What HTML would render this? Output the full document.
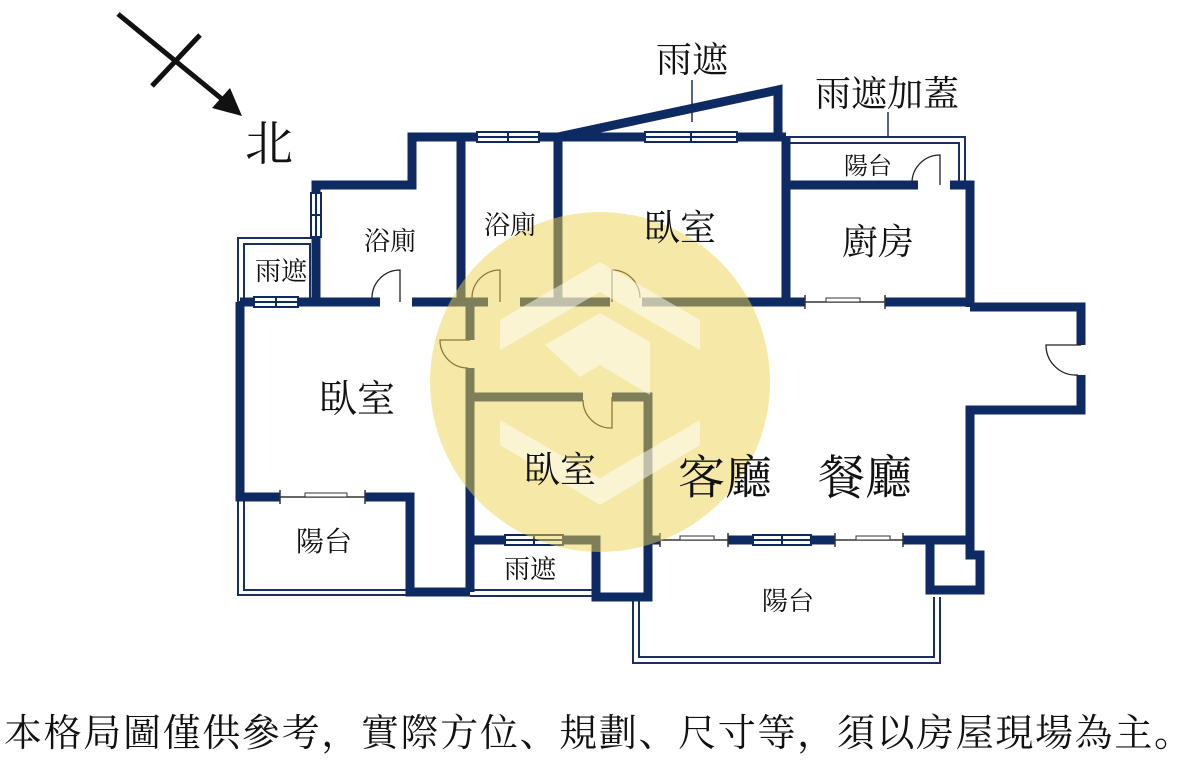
<!DOCTYPE html>
<html><head><meta charset="utf-8"><style>
html,body{margin:0;padding:0;background:#fff;width:1200px;height:768px;overflow:hidden}
svg{display:block}
text{font-family:"Liberation Serif","Noto Serif CJK SC","Noto Sans CJK TC",serif;fill:#111}
</style></head><body>
<svg width="1200" height="768" viewBox="0 0 1200 768" xmlns="http://www.w3.org/2000/svg">
<g fill="none" stroke="#1b2f5e" stroke-width="2">
<rect x="238" y="238" width="78" height="64"/><rect x="244" y="244" width="66" height="58"/>
<path d="M238 497 V595 H410 M244 497 V590 H410"/>
<path d="M470 590 H596 M470 596 H596"/>
<path d="M633 597 V663 H940 V597 M639 597 V657 H934 V597"/>
<path d="M786 137 H965 V185 M786 143 H959 V185"/>
<path d="M888 112 V137" stroke-width="1.5"/>
<path d="M692 80 V122" stroke-width="1.5"/>
</g>
<g fill="none" stroke="#0e2a63" stroke-width="9" stroke-linejoin="miter">
<path d="M316 302 V185 H412 V137 H786"/>
<path d="M558 137 L778 90 V137"/>
<path d="M461 137 V302 M558 137 V302 M786 137 V302"/>
<path d="M786 185 H918 M950 185 H970 V307"/>
<path d="M240 302 H380 M412 302 H488 M520 302 H610 M642 302 H805 M885 302 H970"/>
<path d="M970 307 H1081 V345 M1081 375 V410 H970 V540"/>
<path d="M240 302 V497 H280 M365 497 H410 V592 H470"/>
<path d="M470 302 V340 M470 368 V592"/>
<path d="M470 397 H583 M612 397 H648 V597 H596 V540 H470"/>
<path d="M648 540 H660 M728 540 H835 M903 540 H970 V555 H980 V590 H930 V540"/>
</g>
<g fill="#fff" stroke="#0e2a63" stroke-width="2">
<rect x="477" y="132" width="62" height="10"/><path d="M477 137 H539 M508 132 V142"/>
<rect x="645" y="132" width="92" height="10"/><path d="M645 137 H737 M691 132 V142"/>
<rect x="311" y="193" width="10" height="44"/><path d="M316 193 V237 M311 215 H321"/>
<rect x="254" y="297" width="44" height="10"/><path d="M254 302 H298 M276 297 V307"/>
<rect x="505" y="535" width="58" height="10"/><path d="M505 540 H563 M534 535 V545"/>
<rect x="753" y="535" width="58" height="10"/><path d="M753 540 H811 M782 535 V545"/>
</g>
<g fill="#fff" stroke="#333" stroke-width="1">
<path d="M805 302 H885 M805 295 V309 M885 295 V309" fill="none" stroke-width="1.5"/><rect x="826" y="298" width="34" height="4"/>
<path d="M280 497 H365 M280 490 V504 M365 490 V504" fill="none" stroke-width="1.5"/><rect x="305" y="493" width="42" height="4"/>
<path d="M660 540 H728 M660 533 V547 M728 533 V547" fill="none" stroke-width="1.5"/><rect x="680" y="536" width="34" height="4"/>
<path d="M835 540 H903 M835 533 V547 M903 533 V547" fill="none" stroke-width="1.5"/><rect x="856" y="536" width="34" height="4"/>
</g>
<g fill="none" stroke="#222" stroke-width="1.3">
<path d="M400 302 V270 A28 28 0 0 0 372 298"/>
<path d="M500 302 V270 A28 28 0 0 0 472 298"/>
<path d="M612 302 V270 A28 28 0 0 1 640 298"/>
<path d="M940 185 V155 A28 28 0 0 0 912 183"/>
<path d="M470 340 H440 A28 28 0 0 0 468 368"/>
<path d="M612 397 V428 A28 28 0 0 1 583 400"/>
<path d="M1081 345 H1046 A30 30 0 0 0 1078 375"/>
</g>
<circle cx="600" cy="382" r="170" fill="rgb(238,212,80)" fill-opacity="0.5"/>
<path d="M600 262 L700 320 V350 L600 292 L500 350 V320 Z M500 420 L600 478 L700 420 V445 L600 505 L500 445 Z M545 345 L600 313 L650 342 V395 L600 365 L580 377 Z" fill="#fff" fill-opacity="0.5"/>
<g stroke="#111" stroke-width="5">
<line x1="118" y1="14" x2="228" y2="104"/><line x1="200" y1="35" x2="152" y2="86"/>
</g>
<polygon points="242,116 212,108 230,88" fill="#111"/>
<text x="245" y="160" font-size="48">北</text>
<text x="692" y="72" font-size="36" text-anchor="middle">雨遮</text>
<text x="887" y="106" font-size="36" text-anchor="middle">雨遮加蓋</text>
<text x="868" y="174" font-size="24" text-anchor="middle">陽台</text>
<text x="390" y="250" font-size="26" text-anchor="middle">浴廁</text>
<text x="510" y="234" font-size="26" text-anchor="middle">浴廁</text>
<text x="680" y="240" font-size="36" text-anchor="middle">臥室</text>
<text x="878" y="254" font-size="36" text-anchor="middle">廚房</text>
<text x="281" y="280" font-size="26" text-anchor="middle">雨遮</text>
<text x="357" y="412" font-size="38" text-anchor="middle">臥室</text>
<text x="560" y="482" font-size="36" text-anchor="middle">臥室</text>
<text x="725" y="494" font-size="47" text-anchor="middle">客廳</text>
<text x="865" y="494" font-size="47" text-anchor="middle">餐廳</text>
<text x="324" y="551" font-size="28" text-anchor="middle">陽台</text>
<text x="530" y="578" font-size="26" text-anchor="middle">雨遮</text>
<text x="788" y="610" font-size="26" text-anchor="middle">陽台</text>
<text x="4" y="746" font-size="38" textLength="1188" lengthAdjust="spacing">本格局圖僅供參考，實際方位、規劃、尺寸等，須以房屋現場為主。</text>
</svg>
</body></html>
